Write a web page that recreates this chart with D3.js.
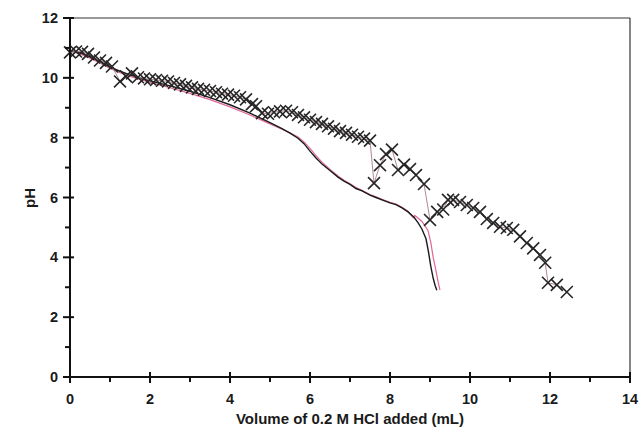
<!DOCTYPE html>
<html>
<head>
<meta charset="utf-8">
<script src="https://cdn.jsdelivr.net/npm/d3@7"></script>
<style>
  body { margin: 0; background: #fff; }
  text { font-family: "Liberation Sans", Arial, sans-serif; font-weight: bold; fill: #1a1a1a; }
</style>
</head>
<body>
<div id="container"></div>
<script>
// ---- data ----
let xTicks = [0, 2, 4, 6, 8, 10, 12, 14];
let yTicks = [0, 2, 4, 6, 8, 10, 12];
let xMinor = [1, 3, 5, 7, 9, 11, 13];
let yMinor = [1, 3, 5, 7, 9, 11];

// trial with the X markers
let markerVol = [0, 0.15, 0.3, 0.45, 0.6, 0.75, 0.9, 1.05, 1.25, 1.4, 1.55, 1.7, 1.85, 2.0, 2.15, 2.3, 2.45, 2.6, 2.75, 2.9,
  3.05, 3.2, 3.35, 3.5, 3.65, 3.8, 3.95, 4.1, 4.25, 4.4, 4.55, 4.65, 4.8, 4.95, 5.1, 5.25, 5.4, 5.55, 5.7, 5.85,
  6.0, 6.15, 6.3, 6.45, 6.6, 6.75, 6.9, 7.05, 7.2, 7.35, 7.5, 7.6, 7.75, 7.9, 8.05, 8.2, 8.35, 8.5, 8.65, 8.85,
  9.0, 9.18, 9.33, 9.45, 9.58, 9.75, 9.92, 10.08, 10.25, 10.42, 10.58, 10.75, 10.92, 11.08, 11.25, 11.42, 11.58, 11.75, 11.88, 11.95,
  12.17, 12.42];
let markerPH = [10.85, 10.88, 10.87, 10.8, 10.68, 10.58, 10.5, 10.38, 9.88, 10.05, 10.15, 10.02, 9.98, 9.95, 9.93, 9.9, 9.88, 9.83, 9.78, 9.73,
  9.68, 9.63, 9.6, 9.56, 9.52, 9.47, 9.44, 9.4, 9.35, 9.28, 9.12, 9.05, 8.82, 8.8, 8.85, 8.88, 8.9, 8.85, 8.76, 8.68,
  8.6, 8.52, 8.46, 8.38, 8.3, 8.22, 8.16, 8.1, 8.03, 7.97, 7.9, 6.48, 7.08, 7.45, 7.6, 6.92, 7.1, 6.95, 6.75, 6.45,
  5.25, 5.52, 5.6, 5.92, 5.92, 5.85, 5.75, 5.65, 5.52, 5.28, 5.15, 5.02, 4.98, 4.92, 4.7, 4.48, 4.3, 4.08, 3.82, 3.15,
  3.08, 2.84];

// black line trial
let blackVol = [0, 0.25, 0.5, 0.75, 1.0, 1.25, 1.5, 1.75, 2.0, 2.5, 3.0, 3.5, 4.0, 4.5, 5.0, 5.3, 5.5, 5.7, 5.85, 6.0, 6.15, 6.3,
  6.5, 6.7, 6.85, 7.0, 7.15, 7.3, 7.5, 7.65, 7.8, 8.0, 8.15, 8.3, 8.45, 8.6, 8.7, 8.8, 8.9, 8.96, 9.02, 9.08, 9.13, 9.17];
let blackPH = [10.92, 10.84, 10.7, 10.55, 10.36, 10.22, 10.1, 10.0, 9.9, 9.73, 9.55, 9.34, 9.1, 8.82, 8.5, 8.3, 8.15, 7.98, 7.8, 7.55, 7.32, 7.12,
  6.9, 6.68, 6.55, 6.44, 6.3, 6.22, 6.08, 6.0, 5.92, 5.82, 5.76, 5.65, 5.52, 5.34, 5.16, 4.94, 4.62, 4.2, 3.7, 3.3, 3.05, 2.9];

// pink line trial
let pinkVol = [0, 0.25, 0.5, 0.75, 1.0, 1.25, 1.5, 1.75, 2.0, 2.5, 3.0, 3.5, 4.0, 4.5, 5.0, 5.3, 5.5, 5.7, 5.85, 6.0, 6.15, 6.3,
  6.5, 6.7, 6.85, 7.0, 7.15, 7.3, 7.5, 7.65, 7.8, 8.0, 8.15, 8.3, 8.45, 8.58, 8.62, 8.8, 8.95, 9.02, 9.08, 9.15, 9.2, 9.25];
let pinkPH = [10.9, 10.8, 10.66, 10.5, 10.31, 10.17, 10.05, 9.95, 9.85, 9.67, 9.48, 9.27, 9.03, 8.76, 8.46, 8.28, 8.16, 8.02, 7.86, 7.64, 7.4, 7.18,
  6.94, 6.72, 6.58, 6.46, 6.33, 6.24, 6.1, 6.02, 5.94, 5.84, 5.78, 5.67, 5.54, 5.32, 5.4, 5.2, 4.9, 4.5, 4.0, 3.55, 3.2, 2.9];

// ---- canvas ----
let width = 643, height = 437;
let viz = d3.select("#container")
  .append("svg")
    .attr("width", width)
    .attr("height", height)
    .style("background-color", "#fff");

let x = d3.scaleLinear().domain([0, 14]).range([70, 630]);
let y = d3.scaleLinear().domain([0, 12]).range([377, 18]);

// frame top and right
viz.append("line").attr("x1", x(0)).attr("x2", x(14)).attr("y1", y(12)).attr("y2", y(12))
  .attr("stroke", "#333").attr("stroke-width", 1.2);
viz.append("line").attr("x1", x(14)).attr("x2", x(14)).attr("y1", y(12)).attr("y2", y(0))
  .attr("stroke", "#333").attr("stroke-width", 1.2);

// ---- lines ----
let line = d3.line().x(d => x(d[0])).y(d => y(d[1]));

let markerPts = markerVol.map((v, i) => [v, markerPH[i]]);
let blackPts = blackVol.map((v, i) => [v, blackPH[i]]);
let pinkPts = pinkVol.map((v, i) => [v, pinkPH[i]]);

viz.append("path").attr("d", line(pinkPts))
  .attr("fill", "none").attr("stroke", "#e0669a").attr("stroke-width", 1.2);
viz.append("path").attr("d", line(blackPts))
  .attr("fill", "none").attr("stroke", "#1a1a1a").attr("stroke-width", 1.4);
viz.append("path").attr("d", line(markerPts))
  .attr("fill", "none").attr("stroke", "#b08898").attr("stroke-width", 1);

// X markers
let cross = d3.symbol().type(d3.symbolX).size(95);
viz.selectAll(".mark").data(markerPts).enter()
  .append("path")
    .attr("class", "mark")
    .attr("d", cross)
    .attr("transform", d => "translate(" + x(d[0]) + "," + y(d[1]) + ")")
    .attr("fill", "none")
    .attr("stroke", "#262626")
    .attr("stroke-width", 1.6);

// ---- axes ----
let xAxis = viz.append("g").attr("transform", "translate(0," + y(0) + ")");
xAxis.append("line").attr("x1", x(0) - 5).attr("x2", x(14)).attr("stroke", "#111").attr("stroke-width", 2);
xAxis.selectAll(".maj").data(xTicks).enter().append("line")
  .attr("x1", d => x(d)).attr("x2", d => x(d)).attr("y1", -5).attr("y2", 6)
  .attr("stroke", "#111").attr("stroke-width", 2);
xAxis.selectAll(".min").data(xMinor).enter().append("line")
  .attr("x1", d => x(d)).attr("x2", d => x(d)).attr("y1", 0).attr("y2", 5)
  .attr("stroke", "#111").attr("stroke-width", 2);
xAxis.selectAll(".lab").data(xTicks).enter().append("text")
  .attr("x", d => x(d)).attr("y", 27)
  .attr("text-anchor", "middle").style("font-size", "14.5px")
  .text(d => d);

let yAxis = viz.append("g").attr("transform", "translate(" + x(0) + ",0)");
yAxis.append("line").attr("y1", y(0)).attr("y2", y(12)).attr("stroke", "#111").attr("stroke-width", 2);
yAxis.selectAll(".maj").data(yTicks).enter().append("line")
  .attr("y1", d => y(d)).attr("y2", d => y(d)).attr("x1", -7).attr("x2", 4)
  .attr("stroke", "#111").attr("stroke-width", 2);
yAxis.selectAll(".min").data(yMinor).enter().append("line")
  .attr("y1", d => y(d)).attr("y2", d => y(d)).attr("x1", -5).attr("x2", 0)
  .attr("stroke", "#111").attr("stroke-width", 2);
yAxis.selectAll(".lab").data(yTicks).enter().append("text")
  .attr("x", -12).attr("y", d => y(d) + 5)
  .attr("text-anchor", "end").style("font-size", "14.5px")
  .text(d => d);

// titles
viz.append("text")
  .attr("x", 350).attr("y", 424)
  .attr("text-anchor", "middle").style("font-size", "15px")
  .text("Volume of 0.2 M HCl added (mL)");
viz.append("text")
  .attr("transform", "translate(35," + 198 + ") rotate(-90)")
  .attr("text-anchor", "middle").style("font-size", "15px")
  .text("pH");
</script>
</body>
</html>
